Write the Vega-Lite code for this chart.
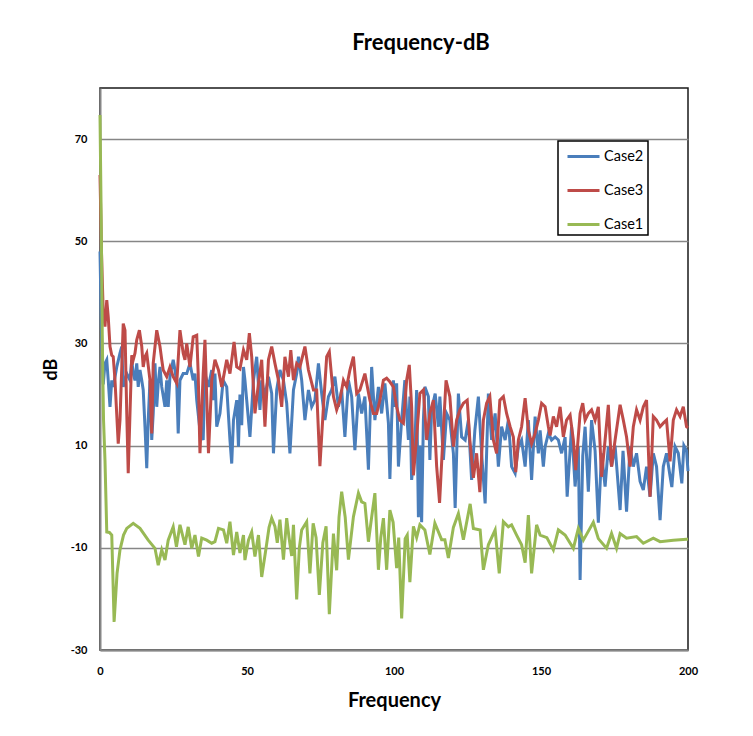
{
"$schema": "https://vega.github.io/schema/vega-lite/v6.json",
"autosize": "none",
"width": 588,
"height": 562,
"padding": {"left": 100, "top": 88, "right": 65, "bottom": 86},
"background": "#ffffff",
"title": {"text": "Frequency-dB", "font": "Lato", "fontSize": 22, "fontWeight": "bold", "color": "#000000", "anchor": "middle", "dx": 27, "offset": 16, "baseline": "alphabetic"},
"datasets": {
"case2": [[0,48],[0.5,32],[1.1,22],[1.7,26.1],[2.3,26.8],[2.8,22.8],[3.4,17.6],[4.0,22.8],[4.5,21.5],[5.7,25.4],[6.8,28.1],[7.4,29.4],[7.9,21.5],[9.1,24.1],[10.2,22.8],[10.8,26.8],[11.3,24.1],[11.9,22.8],[12.5,26.1],[13.0,21.5],[13.6,24.8],[14.2,22.8],[14.7,20.9],[15.3,13.7],[15.9,5.6],[16.4,15],[17.0,22.8],[17.6,11.1],[18.1,16.3],[18.7,26.1],[19.3,17.6],[19.8,22.2],[20.4,25.4],[21.0,21.5],[22.1,17.6],[22.7,22.8],[23.2,17.6],[23.8,23.5],[24.9,26.8],[25.5,24.8],[26.1,22.2],[26.6,12.4],[27.2,22.8],[28.3,24.1],[29.5,24.1],[30.6,26.1],[31.7,22.8],[32.3,24.1],[32.9,18.9],[34.0,13],[35.1,11.1],[35.7,24.1],[36.9,21.5],[38.0,24.8],[38.6,18.9],[39.1,24.1],[39.7,13.7],[40.8,16.3],[41.9,22.8],[43.1,21.5],[44.2,11.1],[44.8,6.5],[45.4,15],[46.5,18.9],[47.1,9.8],[47.6,20],[48.2,14],[48.8,25.4],[49.3,22.8],[49.9,18.9],[51.0,11.7],[52.2,22.8],[53.3,27.4],[54.4,17],[55.0,22.8],[56.1,19.6],[57.3,23.5],[58.4,20.2],[59.0,8.5],[60.1,20.9],[61.2,24.8],[62.4,22.8],[63.5,18.3],[64.6,8.5],[65.8,20.9],[66.9,24.1],[67.5,27.4],[68.6,22.8],[69.7,15],[70.9,20.9],[72.0,17.6],[73.1,18.9],[74.3,26.1],[75.4,20.2],[76.5,15],[77.7,19.6],[78.8,20.9],[79.9,23.5],[81.1,17.6],[82.2,20.9],[83.3,11.7],[84.5,22.8],[85.6,19.6],[86.7,9.1],[87.9,20.2],[89.0,16.3],[90.1,19.6],[91.3,5.3],[92.4,25.4],[93.5,15],[94.7,21.5],[95.8,16.3],[96.9,22.2],[98.1,14.4],[98.6,3.5],[99.2,15],[99.8,22.8],[100.3,17.6],[100.9,22.2],[101.5,5.9],[102.6,15],[103.7,22.8],[104.3,16.3],[104.9,11.1],[105.4,19.6],[106.0,3.3],[107.1,9.8],[107.7,20.9],[108.3,-4],[108.8,10],[109.4,-5],[110.0,15],[110.5,21.5],[111.7,19.6],[112.2,7.2],[112.8,17],[114.0,20.2],[115.1,13.7],[115.6,19.6],[116.8,7.2],[117.9,16.3],[119.0,15],[120.2,8.5],[120.8,-2.2],[121.9,20.2],[123.0,11.7],[124.2,11.1],[125.3,15],[126.4,3.3],[127.5,13],[128.7,19.6],[129.8,8.5],[131.0,-1.3],[132.1,20.2],[133.2,11.1],[134.4,16.3],[135.5,5.9],[136.6,13.7],[137.8,11.1],[138.9,15],[140.0,5.9],[141.2,4.6],[142.3,9.8],[143.4,11.1],[144.6,5.9],[145.7,15],[146.8,3.3],[148.0,15.7],[149.1,8.5],[149.7,13],[150.8,5.9],[151.4,9.8],[152.5,12.4],[153.6,11.1],[154.8,11.7],[155.9,11.1],[157.0,8.5],[158.2,11.7],[158.9,0],[160.4,13.7],[161.6,2],[162.7,9.8],[163.3,-16.3],[164.2,8],[165.0,13.7],[166.1,1],[167.2,15],[168.4,9],[169.5,-5.1],[170.6,8.5],[171.8,2],[172.9,9.8],[174.0,5.9],[175.2,10],[176.9,-2.6],[177.9,9],[179.1,-2.9],[180.3,9.8],[181.4,5.9],[182.5,8.5],[183.7,3],[184.8,1.3],[185.9,5.9],[187.1,0],[188.2,8.5],[189.3,5.9],[190.5,-4.6],[191.6,5.9],[192.7,8.5],[193.9,4],[194.5,1.9],[195.6,9.8],[196.7,8.5],[197.9,2.6],[198.6,10],[199.5,9],[200,5]],
"case3": [[0,63],[0.5,48],[1.1,36],[1.7,33.3],[2.3,38.5],[2.8,35.2],[3.4,29.4],[4.0,27.7],[4.5,27.4],[5.1,22.8],[6.2,10.4],[6.8,15],[7.9,33.9],[8.5,32.6],[9.1,16.3],[9.6,4.6],[10.2,16.3],[10.8,27.7],[11.3,26.8],[11.9,28.1],[12.5,30.7],[13.4,32.6],[14.2,29.4],[14.7,25.4],[15.3,27.4],[15.9,28.1],[17.0,22.8],[17.6,12.4],[18.1,26.1],[19.3,32.6],[20.4,29.4],[21.0,26.8],[21.5,24.8],[22.7,23.5],[23.8,25.4],[24.9,23.5],[26.1,22.2],[27.2,32.6],[28.3,28.1],[28.9,26.8],[29.5,30],[30.6,25.4],[31.7,31.3],[32.9,31.6],[33.4,24.1],[34.0,8.5],[35.1,24.1],[35.7,30.7],[36.9,8.5],[38.0,22.8],[39.1,26.8],[40.3,24.8],[41.4,21.5],[43.1,26.8],[44.2,24.1],[45.6,30.3],[46.5,25.4],[47.6,25],[48.8,28.7],[49.9,26.8],[50.8,32],[51.6,27.4],[52.7,16.3],[53.9,22.2],[55.0,26.8],[56.1,13.7],[57.3,26.8],[58.4,29.4],[59.5,26.1],[60.7,22.8],[61.8,17.6],[62.9,27.4],[64.1,23.5],[64.9,28.7],[65.8,22.8],[66.9,26.1],[68.0,25.4],[69.7,29.4],[70.9,24.8],[72.6,20.9],[73.7,20.9],[74.8,6],[76.0,17.6],[77.1,27.4],[78.0,28.4],[79.4,19.6],[80.5,17],[81.6,18.9],[82.8,22.8],[83.9,21.5],[85.0,24.8],[86.2,27.4],[87.3,20.2],[88.4,20.9],[90.1,24.1],[91.8,18.9],[93.0,16.3],[94.1,16.3],[95.2,18.9],[96.4,22.8],[97.5,23.2],[98.6,22.5],[99.8,21.5],[100.9,17.6],[102.0,15],[103.2,14.4],[104.3,22.8],[105.2,25.8],[106.0,17.6],[106.6,4.2],[107.7,11.7],[108.8,20.2],[110.0,20.9],[111.1,11.1],[112.2,16.3],[113.4,18.9],[114.5,6],[115.5,-1.2],[116.5,10],[117.7,22.8],[119.0,19.6],[120.2,9.8],[121.3,15],[122.4,17],[123.6,18.3],[124.9,18.9],[125.8,11.1],[127.0,3.7],[128.1,8.5],[129.2,0.9],[130.4,15],[131.5,18.3],[132.6,19.6],[133.8,11.1],[134.9,8.5],[136.0,18.9],[137.2,19.6],[138.3,16.3],[139.5,13.7],[140.6,11.7],[141.4,4.8],[142.3,11.1],[143.4,13.7],[144.6,19.3],[145.7,13],[146.8,10.4],[148.0,12.4],[149.1,15],[150.2,18.3],[151.4,17.6],[152.5,13.7],[153.1,12],[154.2,15.7],[155.3,13.7],[156.5,17.6],[157.6,11.7],[158.7,15],[159.9,16],[161.0,11.1],[161.8,5.2],[163.3,16.3],[164.2,18.3],[165.0,15],[166.1,16.3],[167.2,17],[168.4,15],[169.5,17.6],[170.6,3.9],[171.8,11.1],[172.9,18],[174.0,5.9],[175.2,11.1],[176.9,18],[178.0,15],[179.1,11.7],[180.3,5.9],[181.4,13.7],[182.5,17],[183.7,15],[184.8,17.6],[185.9,18.9],[187.1,0],[188.2,15.7],[189.3,15],[190.5,13.7],[191.6,14.4],[192.7,15],[193.9,6.9],[195.0,15],[196.1,17],[197.3,15.7],[198.4,17.6],[199.5,13.7],[200,13.5]],
"case1": [[0,74.7],[0.4,55],[0.8,30],[1.2,15],[1.7,7],[2.3,-6.9],[3.2,-7],[4.0,-7.5],[4.8,-24.5],[5.8,-15],[6.8,-10.4],[8,-7.5],[9.1,-6.2],[11.3,-5.2],[13.6,-6.2],[16.4,-8.5],[18.7,-10.1],[19.8,-13.4],[21,-10.4],[22.1,-12.4],[23.2,-8.5],[24.9,-5.9],[26,-9.8],[27.2,-5.5],[28.9,-9.4],[30,-5.9],[31.2,-10.1],[32.3,-7.5],[33.5,-11.7],[34.6,-8.1],[36.3,-8.5],[38,-9.1],[39.1,-8.8],[40.3,-6.2],[42,-6.5],[43.1,-9.1],[44.2,-4.9],[45.4,-11.4],[46.5,-6.9],[47.6,-11],[48.8,-7.5],[49.3,-12.4],[50.5,-8.5],[51.6,-6.9],[52.7,-11.7],[53.9,-7.5],[55,-15.7],[56.5,-10],[57.5,-6],[58.4,-4.2],[59.5,-5.8],[60.3,-9],[61.2,-4.5],[62.4,-12.3],[63.5,-4.2],[64.3,-8],[65.2,-11.6],[65.8,-5.5],[66.9,-20.1],[67.8,-10],[68.6,-6.5],[70.3,-4.9],[71.4,-15],[72.5,-5.2],[73.5,-8],[74.6,-19.2],[75.8,-9],[76.9,-5.8],[78,-23],[79.4,-7.2],[80.5,-14.4],[81.3,-4],[82.2,1],[83.4,-4],[84.5,-12.3],[86.2,-3.9],[87.9,0.7],[89,-1],[90.1,-1.3],[91.3,-8.8],[92.4,-4],[93.5,0.7],[94.7,-14.3],[95.5,-8],[96.4,-4.2],[97.5,-14.3],[98.6,-2.6],[99.7,-5],[100.9,-14],[101.6,-8],[102.6,-23.8],[103.8,-8.2],[104.5,-7.5],[105.4,-16.7],[106.6,-5.8],[107.7,-8],[108.8,-5.5],[110.5,-6.5],[112.2,-11.3],[113.9,-5.2],[116.2,-8.4],[117.3,-8.4],[118.5,-12],[120.2,-6],[121.9,-3.3],[123.6,-8.4],[125.9,-1.4],[127,-6.2],[129.3,-6.5],[130.4,-14.3],[132.1,-9.4],[134.4,-6.5],[135.8,-15],[137.2,-4.9],[138.9,-5.9],[140,-5.5],[141.7,-7.5],[143.4,-9.4],[144.6,-12.9],[145.7,-3.6],[146.8,-15],[148.5,-5.5],[149.7,-7.5],[152,-8],[154.2,-10.4],[155.9,-6.5],[158.2,-7.5],[161,-10.1],[162.7,-6.2],[164.4,-8.5],[167.8,-5],[169.5,-8.2],[172.3,-10.1],[174,-7.2],[175.7,-10.1],[176.9,-7.2],[179.1,-8.1],[182.5,-7.8],[184.8,-9.1],[188.2,-8.1],[190.5,-8.8],[195,-8.5],[199.5,-8.3],[200,-8.3]]
},
"encoding": {
"x": {"field": "f", "type": "quantitative", "scale": {"domain": [0, 200], "nice": false, "zero": false},
"axis": {"values": [0, 50, 100, 150, 200], "labelExpr": "toString(datum.value)", "labelFlush": false, "labelOverlap": false, "title": "Frequency", "grid": false, "ticks": false, "labelPadding": 15, "titlePadding": 14, "labelFontSize": 11, "labelFontWeight": "bold", "titleFontSize": 20, "titleFontWeight": "bold"}},
"y": {"field": "dB", "type": "quantitative", "scale": {"domain": [-30, 80], "nice": false, "zero": false},
"axis": {"values": [-30, -10, 10, 30, 50, 70], "labelExpr": "toString(datum.value)", "labelFlush": false, "labelOverlap": false, "title": "dB", "grid": true, "ticks": false, "labelPadding": 13, "titlePadding": 10, "labelFontSize": 11, "labelFontWeight": "bold", "titleFontSize": 18, "titleFontWeight": "bold"}},
"color": {"field": "s", "type": "nominal", "scale": {"domain": ["Case2", "Case3", "Case1"], "range": ["#4A7EBB", "#BE4B48", "#98B954"]},
"legend": {"title": null, "orient": "none", "legendX": 458, "legendY": 53, "padding": 4, "strokeColor": "#000000", "fillColor": "#ffffff", "symbolType": "M-1.6,0L1.6,0", "symbolSize": 400, "symbolStrokeWidth": 3, "symbolOffset": 10, "labelOffset": 9, "rowPadding": 16, "labelFontSize": 14.5, "labelFont": "Lato", "labelColor": "#000000"}}
},
"layer": [
{"data": {"name": "case2"}, "transform": [{"calculate": "datum[0]", "as": "f"}, {"calculate": "datum[1]", "as": "dB"}, {"calculate": "'Case2'", "as": "s"}], "mark": {"type": "line", "strokeWidth": 3}},
{"data": {"name": "case3"}, "transform": [{"calculate": "datum[0]", "as": "f"}, {"calculate": "datum[1]", "as": "dB"}, {"calculate": "'Case3'", "as": "s"}], "mark": {"type": "line", "strokeWidth": 3}},
{"data": {"name": "case1"}, "transform": [{"calculate": "datum[0]", "as": "f"}, {"calculate": "datum[1]", "as": "dB"}, {"calculate": "'Case1'", "as": "s"}], "mark": {"type": "line", "strokeWidth": 3}}
],
"config": {
"font": "Lato",
"view": {"stroke": "#1a1a1a", "strokeWidth": 1.5},
"axis": {"domainColor": "#868686", "domainWidth": 2, "gridColor": "#868686", "gridWidth": 1.5, "labelColor": "#000000", "titleColor": "#000000", "labelFont": "Lato", "titleFont": "Lato"},
"legend": {"strokeWidth": 1.5}
}
}
